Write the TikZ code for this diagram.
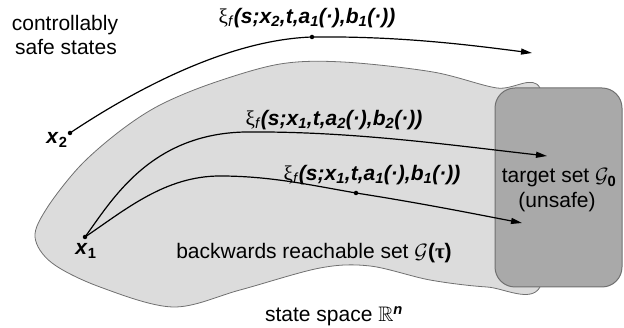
\documentclass[tikz,border=0pt]{standalone}
\usepackage{amssymb}
\usepackage{bm}
\usepackage{fontspec}
\setmainfont{Liberation Sans}
\newfontfamily\symf{Liberation Serif}
\usetikzlibrary{arrows.meta}
\definecolor{regiongray}{HTML}{DCDCDC}
\definecolor{boxgray}{HTML}{A9A9A9}
\definecolor{edgegray}{HTML}{707070}
\tikzset{
  lbl/.style={inner sep=0pt, font=\fontsize{21}{23}\selectfont},
  traj/.style={line width=1.2pt, -{Triangle[length=11pt,width=6pt]}},
  dotm/.style={circle, fill=black, inner sep=0pt, minimum size=4.5pt},
}
\newcommand{\xif}[3]{{\symf ξ}\textsubscript{\textit{f}}\textbf{\textit{(s;x\textsubscript{#1},t,a\textsubscript{#2}(·),b\textsubscript{#3}(·))}}}
\begin{document}
\begin{tikzpicture}[x=1pt,y=-1pt]
\useasboundingbox (0,0) rectangle (624,328);
% reachable set region
\filldraw[fill=regiongray, draw=edgegray, line width=0.8pt]
  plot[smooth cycle, tension=0.55] coordinates {
   (497,88) (433,72) (343,62) (280,64) (213,83) (160,105) (120,131) (80,166)
   (47,208) (35,237) (52,263) (100,287) (173,307) (240,290) (320,268)
   (370,266) (430,280) (487,287) (540,287) (545,180) (540,88)};
% target set
\node[draw=edgegray, line width=1pt, fill=boxgray, rounded corners=20pt,
      minimum width=127pt, minimum height=199pt, inner sep=0pt] (target) at (558.5,187.5) {};
% points
\node[dotm] (x2) at (70,133) {};
\node[dotm] (x1) at (85,237) {};
\node[dotm] (d1) at (312,37) {};
\node[dotm] (d3) at (356,193) {};
\coordinate (t1) at (532,53);
\coordinate (t2) at (547,156);
\coordinate (t3) at (522,223);
% trajectories
\draw[traj] (x2.center) .. controls (130,93) and (225,40) .. (d1.center)
            .. controls (400,36) and (470,45) .. (t1);
\draw[traj] (x1.center) .. controls (112,200) and (150,134) .. (245,132)
            .. controls (350,131) and (450,145) .. (t2);
\draw[traj] (x1.center) .. controls (125,210) and (165,176) .. (220,176)
            .. controls (270,176) and (310,185) .. (d3.center)
            .. controls (420,203) and (470,213) .. (t3);
% labels
\node[lbl] (lc) at (65,25) {controllably};
\node[lbl] (ls) at (66,47) {safe states};
\node[lbl] (lx2) at (57,140) {\textbf{\textit{x}\textsubscript{2}}};
\node[lbl] (lx1) at (86,251) {\textbf{\textit{x}\textsubscript{1}}};
\node[lbl] (l1) at (307,18) {\xif{2}{1}{1}};
\node[lbl] (l2) at (334,120) {\xif{1}{2}{2}};
\node[lbl] (l3) at (372,175) {\xif{1}{1}{1}};
\node[lbl] (lt) at (559,178) {target set $\mathcal{G}_{\mathbf{0}}$};
\node[lbl] (lu) at (557,202) {(unsafe)};
\node[lbl] (lb) at (314,253) {backwards reachable set $\mathcal{G}$\textbf{(}{\symf\bfseries τ}\textbf{)}};
\node[lbl] (lsp) at (334,316) {state space $\mathbb{R}$\textsuperscript{\textbf{\textit{n}}}};
\end{tikzpicture}
\end{document}
